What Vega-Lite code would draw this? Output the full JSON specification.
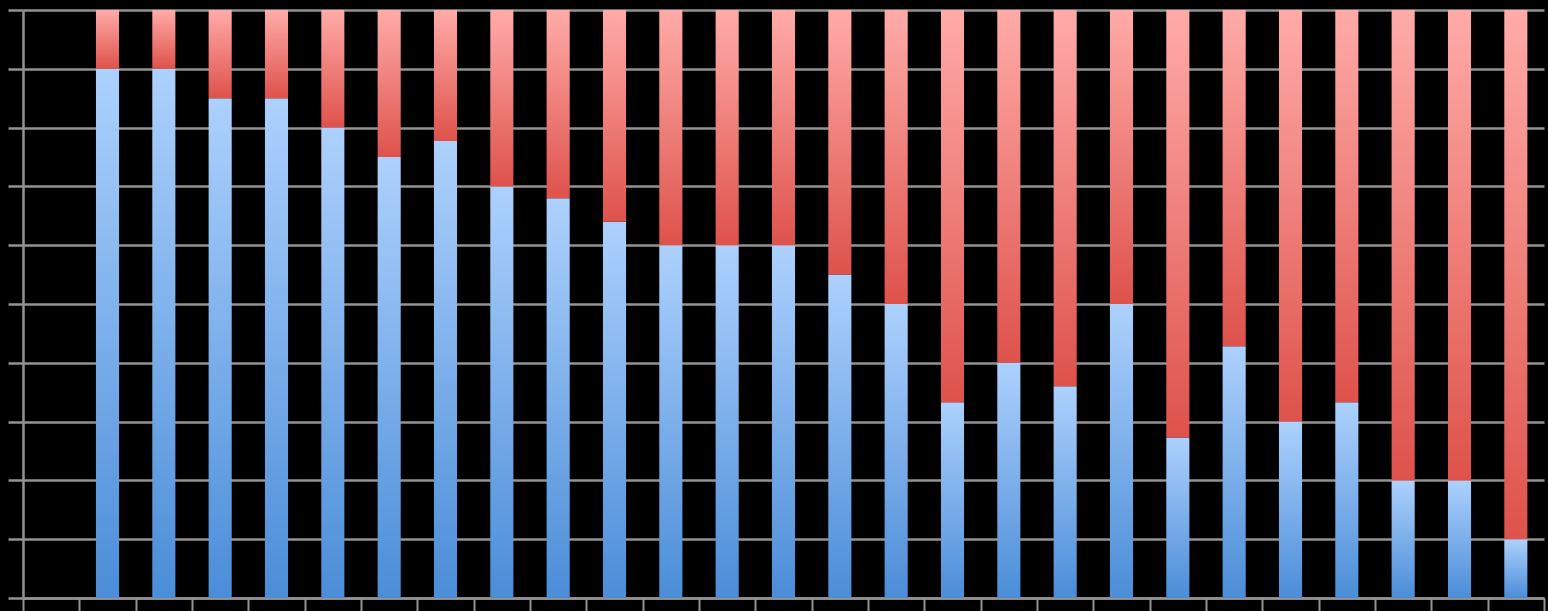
{
  "$schema": "https://vega.github.io/schema/vega-lite/v6.json",
  "width": 1521,
  "height": 588,
  "autosize": {"type": "none"},
  "padding": {"left": 23, "top": 10, "right": 4, "bottom": 13},
  "background": "black",
  "config": {"view": {"stroke": null}},
  "data": {
    "values": [
      {"cat": "2", "blue": 90},
      {"cat": "3", "blue": 90},
      {"cat": "4", "blue": 85},
      {"cat": "5", "blue": 85},
      {"cat": "6", "blue": 80},
      {"cat": "7", "blue": 75},
      {"cat": "8", "blue": 77.7},
      {"cat": "9", "blue": 70},
      {"cat": "10", "blue": 68},
      {"cat": "11", "blue": 64},
      {"cat": "12", "blue": 60},
      {"cat": "13", "blue": 60},
      {"cat": "14", "blue": 60},
      {"cat": "15", "blue": 55},
      {"cat": "16", "blue": 50},
      {"cat": "17", "blue": 33.3},
      {"cat": "18", "blue": 40},
      {"cat": "19", "blue": 36},
      {"cat": "20", "blue": 50},
      {"cat": "21", "blue": 27.3},
      {"cat": "22", "blue": 42.8},
      {"cat": "23", "blue": 30},
      {"cat": "24", "blue": 33.3},
      {"cat": "25", "blue": 20},
      {"cat": "26", "blue": 20},
      {"cat": "27", "blue": 10}
    ]
  },
  "encoding": {
    "x": {
      "field": "cat",
      "type": "nominal",
      "sort": null,
      "scale": {
        "domain": ["1","2","3","4","5","6","7","8","9","10","11","12","13","14","15","16","17","18","19","20","21","22","23","24","25","26","27"],
        "paddingInner": 0,
        "paddingOuter": 0
      },
      "axis": {
        "title": null,
        "labels": false,
        "ticks": true,
        "tickSize": 13,
        "tickColor": "#939393",
        "tickWidth": 2,
        "tickBand": "extent",
        "domain": true,
        "domainColor": "#939393",
        "domainWidth": 2.5,
        "grid": false
      }
    }
  },
  "layer": [
    {
      "mark": {
        "type": "bar",
        "width": {"band": 0.41},
        "color": {
          "gradient": "linear",
          "x1": 0, "y1": 0, "x2": 0, "y2": 1,
          "stops": [
            {"offset": 0, "color": "#add1fd"},
            {"offset": 1, "color": "#4b8dd8"}
          ]
        }
      },
      "encoding": {
        "y": {
          "field": "blue",
          "type": "quantitative",
          "scale": {"domain": [0, 100], "nice": false},
          "axis": {
            "title": null,
            "labels": false,
            "values": [0, 10, 20, 30, 40, 50, 60, 70, 80, 90, 100],
            "ticks": true,
            "tickSize": 15,
            "tickColor": "#939393",
            "tickWidth": 2.5,
            "domain": true,
            "domainColor": "#939393",
            "domainWidth": 2.5,
            "grid": true,
            "gridColor": "#939393",
            "gridWidth": 2.5,
            "gridOpacity": 1
          }
        }
      }
    },
    {
      "mark": {
        "type": "bar",
        "width": {"band": 0.41},
        "color": {
          "gradient": "linear",
          "x1": 0, "y1": 0, "x2": 0, "y2": 1,
          "stops": [
            {"offset": 0, "color": "#ffaba8"},
            {"offset": 1, "color": "#de524b"}
          ]
        }
      },
      "encoding": {
        "y": {"field": "blue", "type": "quantitative"},
        "y2": {"datum": 100}
      }
    }
  ]
}
